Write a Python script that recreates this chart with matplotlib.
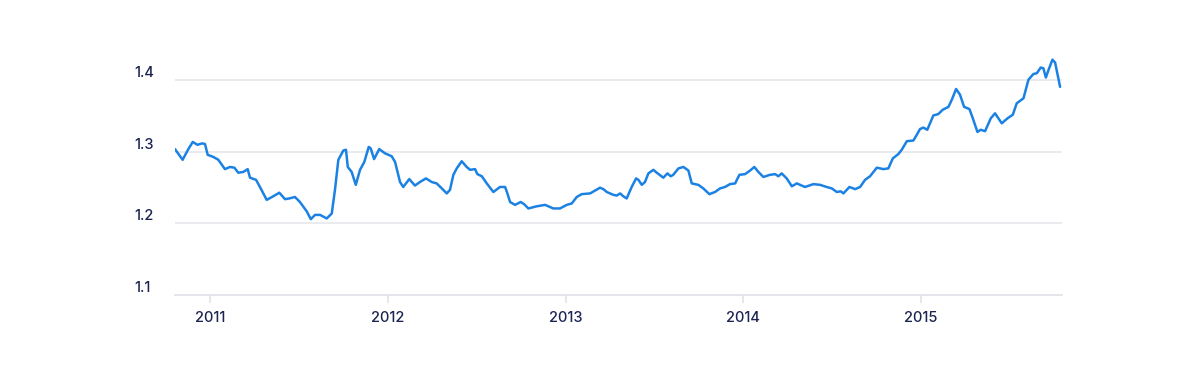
import matplotlib
matplotlib.use('Agg')
import matplotlib.pyplot as plt

# decimal years and values
years = [
    2010.803, 2010.846, 2010.876, 2010.903, 2010.929, 2010.957, 2010.972, 2010.987,
    2011.019, 2011.047, 2011.084, 2011.113, 2011.137, 2011.159, 2011.187, 2011.212,
    2011.225, 2011.259, 2011.281, 2011.319, 2011.356, 2011.390, 2011.422, 2011.446,
    2011.478, 2011.506, 2011.544, 2011.567, 2011.591, 2011.619, 2011.657, 2011.685,
    2011.703, 2011.722, 2011.750, 2011.765, 2011.775, 2011.797, 2011.820, 2011.844,
    2011.868, 2011.893, 2011.904, 2011.923, 2011.952, 2011.985, 2012.022, 2012.041,
    2012.069, 2012.087, 2012.121, 2012.153, 2012.181, 2012.215, 2012.247, 2012.275,
    2012.304, 2012.332, 2012.350, 2012.369, 2012.388, 2012.416, 2012.444, 2012.463,
    2012.491, 2012.504, 2012.529, 2012.557, 2012.594, 2012.631, 2012.660, 2012.673,
    2012.688, 2012.716, 2012.748, 2012.767, 2012.791, 2012.838, 2012.885, 2012.931,
    2012.969, 2013.007, 2013.035, 2013.063, 2013.091, 2013.138, 2013.166, 2013.194,
    2013.213, 2013.232, 2013.269, 2013.288, 2013.307, 2013.325, 2013.344, 2013.372,
    2013.397, 2013.410, 2013.429, 2013.447, 2013.466, 2013.494, 2013.513, 2013.550,
    2013.573, 2013.592, 2013.606, 2013.635, 2013.663, 2013.691, 2013.710, 2013.747,
    2013.775, 2013.809, 2013.841, 2013.869, 2013.897, 2013.925, 2013.954, 2013.978,
    2014.010, 2014.038, 2014.062, 2014.085, 2014.113, 2014.150, 2014.179, 2014.197,
    2014.216, 2014.244, 2014.273, 2014.301, 2014.347, 2014.394, 2014.432, 2014.469,
    2014.498, 2014.526, 2014.548, 2014.563, 2014.597, 2014.629, 2014.657, 2014.685,
    2014.713, 2014.751, 2014.788, 2014.816, 2014.841, 2014.872, 2014.891, 2014.920,
    2014.957, 2014.976, 2014.994, 2015.013, 2015.035, 2015.069, 2015.097, 2015.122,
    2015.154, 2015.173, 2015.197, 2015.219, 2015.242, 2015.272, 2015.291, 2015.317,
    2015.336, 2015.360, 2015.392, 2015.416, 2015.454, 2015.486, 2015.516, 2015.538,
    2015.576, 2015.604, 2015.632, 2015.651, 2015.673, 2015.688, 2015.702, 2015.716,
    2015.739, 2015.754, 2015.782,
]
values = [
    1.304, 1.289, 1.303, 1.314, 1.310, 1.312, 1.311, 1.296,
    1.293, 1.289, 1.276, 1.279, 1.278, 1.271, 1.272, 1.276,
    1.264, 1.261, 1.251, 1.233, 1.238, 1.243, 1.234, 1.235,
    1.237, 1.230, 1.217, 1.206, 1.212, 1.212, 1.207, 1.214,
    1.247, 1.289, 1.302, 1.303, 1.279, 1.272, 1.254, 1.275,
    1.286, 1.307, 1.305, 1.290, 1.304, 1.298, 1.294, 1.286,
    1.258, 1.251, 1.262, 1.253, 1.258, 1.263, 1.258, 1.256,
    1.249, 1.242, 1.247, 1.268, 1.277, 1.287, 1.279, 1.275,
    1.276, 1.269, 1.266, 1.256, 1.244, 1.251, 1.251, 1.242,
    1.230, 1.226, 1.230, 1.227, 1.221, 1.224, 1.226, 1.221,
    1.221, 1.226, 1.228, 1.237, 1.241, 1.242, 1.246, 1.250,
    1.248, 1.244, 1.240, 1.239, 1.242, 1.238, 1.235, 1.251,
    1.263, 1.261, 1.254, 1.258, 1.270, 1.275, 1.271, 1.264,
    1.270, 1.266, 1.268, 1.277, 1.279, 1.274, 1.256, 1.254,
    1.249, 1.241, 1.244, 1.249, 1.251, 1.255, 1.256, 1.268,
    1.269, 1.274, 1.279, 1.272, 1.265, 1.268, 1.269, 1.266,
    1.270, 1.263, 1.252, 1.256, 1.251, 1.255, 1.254, 1.251,
    1.249, 1.244, 1.245, 1.242, 1.251, 1.248, 1.251, 1.261,
    1.266, 1.278, 1.276, 1.277, 1.291, 1.297, 1.303, 1.315,
    1.316, 1.324, 1.332, 1.334, 1.331, 1.351, 1.353, 1.359,
    1.363, 1.373, 1.388, 1.380, 1.363, 1.360, 1.347, 1.328,
    1.331, 1.329, 1.347, 1.354, 1.340, 1.347, 1.352, 1.368,
    1.375, 1.401, 1.409, 1.410, 1.418, 1.417, 1.404, 1.414,
    1.429, 1.425, 1.391,
]

year_ticks = [2011, 2012, 2013, 2014, 2015]
value_ticks = [1.1, 1.2, 1.3, 1.4]

plt.rcParams['font.family'] = ['Inter', 'DejaVu Sans']

fig = plt.figure(figsize=(11.96, 3.66), dpi=100)
ax = fig.add_axes([0.1463, 0.194, 0.888 - 0.1463, 0.684])

ax.plot(years, values, color='#1b82e3', linewidth=1.8, solid_joinstyle='round',
        solid_capstyle='round', zorder=3)

ax.set_xlim(2010.803, 2015.793)
ax.set_ylim(1.1, 1.45)

ax.set_xticks(year_ticks)
ax.set_xticklabels([str(y) for y in year_ticks])
ax.set_yticks(value_ticks)
ax.set_yticklabels([f'{v:.1f}' for v in value_ticks])

for v in value_ticks[1:]:
    ax.axhline(v, color='#e4e5ea', linewidth=1.1, zorder=1)

for s in ['top', 'right', 'left']:
    ax.spines[s].set_visible(False)
ax.spines['bottom'].set_color('#dfe0e6')
ax.spines['bottom'].set_linewidth(1.2)

ax.tick_params(axis='x', length=6, width=1.1, color='#dfe0e6', pad=5.5,
               labelsize=10.5, labelcolor='#1c2452')
ax.tick_params(axis='y', length=0, pad=29.5, labelsize=10.5, labelcolor='#1c2452')
for lab in ax.get_xticklabels() + ax.get_yticklabels():
    lab.set_fontweight('medium')
for lab in ax.get_yticklabels():
    lab.set_ha('left')
    lab.set_va('bottom')

fig.savefig('out.png', dpi=100, facecolor='white')
